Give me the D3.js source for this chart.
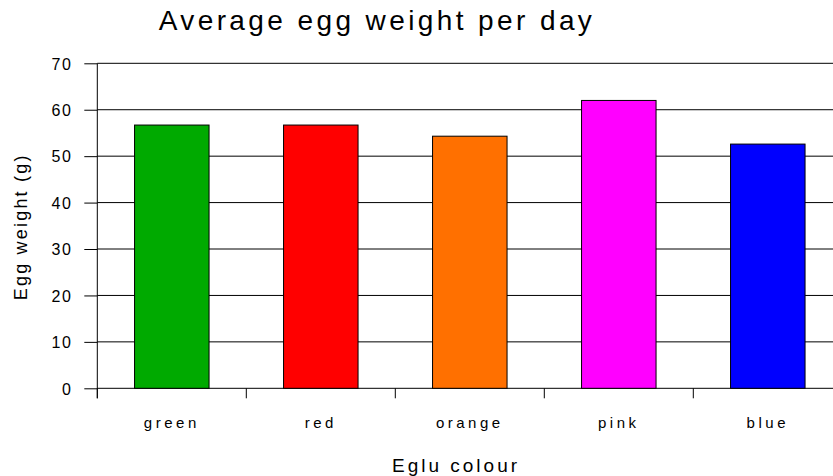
<!DOCTYPE html>
<html>
<head>
<meta charset="utf-8">
<script src="https://cdn.jsdelivr.net/npm/d3@7"></script>
<style>
  html, body { margin: 0; padding: 0; background: #fff; overflow: hidden; }
  svg { display: block; font-family: "Liberation Sans", Arial, sans-serif; }
</style>
</head>
<body>
<div id="chart"></div>
<script>
// chart data
const colours = ["green", "red", "orange", "pink", "blue"];
const eggWeights = [56.7, 56.7, 54.3, 62.0, 52.6];
const barFills = ["#00aa00", "#ff0000", "#ff7000", "#ff00ff", "#0000ff"];
const yTicks = [0, 10, 20, 30, 40, 50, 60, 70];

const width = 833, height = 476;
const margin = { top: 63.3, left: 97.3, bottom: 87.7 };
const plotRight = 842.3; // plot runs past the right edge

const svg = d3.select("#chart").append("svg")
    .attr("width", width)
    .attr("height", height);

const x = d3.scaleBand()
    .domain(colours)
    .range([margin.left, plotRight])
    .paddingInner(0)
    .paddingOuter(0);

const y = d3.scaleLinear()
    .domain([0, 70])
    .range([height - margin.bottom, margin.top]);

// gridlines
svg.append("g")
    .selectAll("line")
    .data(yTicks)
    .join("line")
    .attr("x1", margin.left)
    .attr("x2", plotRight)
    .attr("y1", d => y(d))
    .attr("y2", d => y(d))
    .attr("stroke", "#000")
    .attr("stroke-width", 1);

// bars
const barW = x.bandwidth() / 2;
svg.append("g")
    .selectAll("rect")
    .data(colours)
    .join("rect")
    .attr("x", d => x(d) + x.bandwidth() / 4)
    .attr("width", barW)
    .attr("y", (d, i) => y(eggWeights[i]))
    .attr("height", (d, i) => y(0) - y(eggWeights[i]))
    .attr("fill", (d, i) => barFills[i])
    .attr("stroke", "#000")
    .attr("stroke-width", 1);

// y axis
const yAxis = d3.axisLeft(y)
    .tickValues(yTicks)
    .tickSize(13)
    .tickPadding(12)
    .tickFormat(d => d);

const yG = svg.append("g")
    .attr("transform", `translate(${margin.left},0)`)
    .call(yAxis);
yG.select(".domain").remove();
yG.selectAll(".tick line").attr("stroke", "#000");
yG.selectAll(".tick text")
    .attr("fill", "#000")
    .attr("font-size", 16)
    .attr("font-family", "Liberation Sans, Arial, sans-serif")
    .attr("dy", "0.36em")
    .style("letter-spacing", "1.5px");
yG.append("line")
    .attr("x1", 0).attr("x2", 0)
    .attr("y1", y(70)).attr("y2", y(0) + 10)
    .attr("stroke", "#000");

// x axis: ticks on band edges
const edges = colours.map(d => x(d));
svg.append("g")
    .selectAll("line")
    .data(edges)
    .join("line")
    .attr("x1", d => d).attr("x2", d => d)
    .attr("y1", y(0)).attr("y2", y(0) + 10)
    .attr("stroke", "#000");

svg.append("g")
    .selectAll("text")
    .data(colours)
    .join("text")
    .attr("x", d => x(d) + x.bandwidth() / 2)
    .attr("y", 428)
    .attr("text-anchor", "middle")
    .attr("font-size", 15)
    .style("letter-spacing", "3.5px")
    .text(d => d);

// titles
svg.append("text")
    .attr("x", 377)
    .attr("y", 30)
    .attr("text-anchor", "middle")
    .attr("font-size", 28)
    .style("letter-spacing", "3.4px")
    .text("Average egg weight per day");

svg.append("text")
    .attr("x", 456)
    .attr("y", 472)
    .attr("text-anchor", "middle")
    .attr("font-size", 19)
    .style("letter-spacing", "3px")
    .text("Eglu colour");

svg.append("text")
    .attr("transform", `translate(27,${(y(0) + y(70)) / 2 + 1}) rotate(-90)`)
    .attr("text-anchor", "middle")
    .attr("font-size", 18)
    .style("letter-spacing", "2.2px")
    .text("Egg weight (g)");
</script>
</body>
</html>
